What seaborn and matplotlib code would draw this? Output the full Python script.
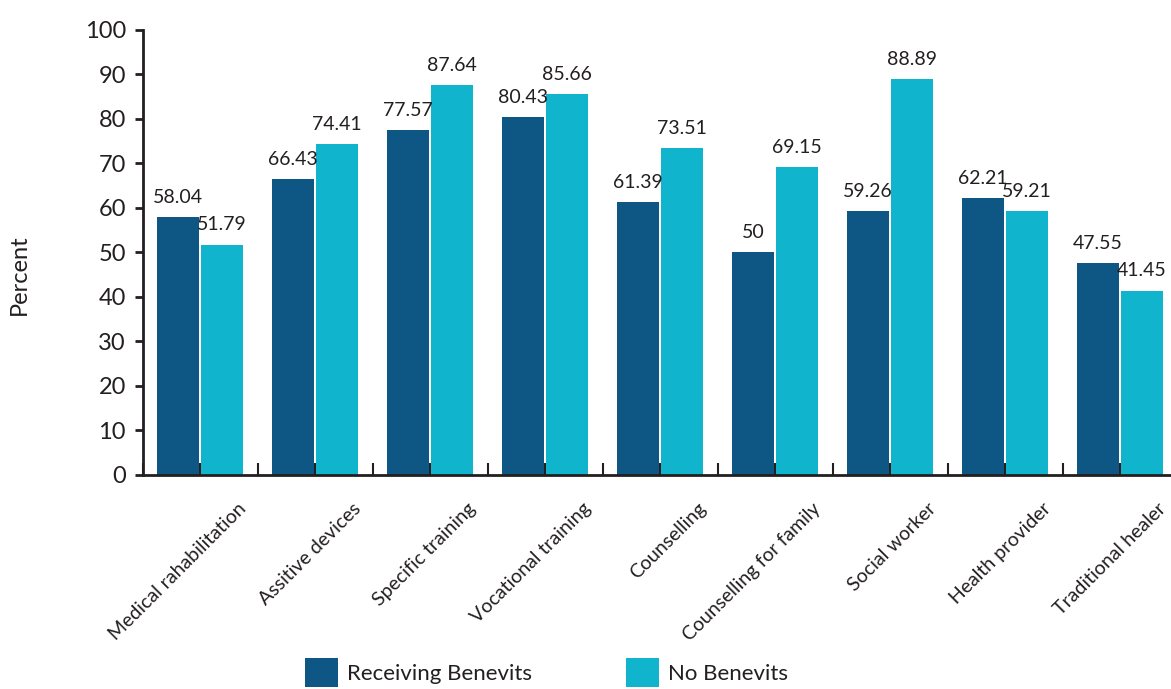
import matplotlib
matplotlib.use("Agg")
import matplotlib.pyplot as plt
import matplotlib.transforms as mtransforms
from matplotlib.patches import Patch
import numpy as np
import pandas as pd
import seaborn as sns

# Services and the share (%) of respondents in each group
services = [
    "Medical rahabilitation", "Assitive devices", "Specific training",
    "Vocational training", "Counselling", "Counselling for family",
    "Social worker", "Health provider", "Traditional healer",
]
receiving = [58.04, 66.43, 77.57, 80.43, 61.39, 50, 59.26, 62.21, 47.55]
no_benefits = [51.79, 74.41, 87.64, 85.66, 73.51, 69.15, 88.89, 59.21, 41.45]
groups = ["Receiving Benevits", "No Benevits"]
y_ticks = list(range(0, 101, 10))

colors = {"Receiving Benevits": "#0e5684", "No Benevits": "#10b4cd"}
ink = "#231f20"

df = pd.DataFrame({
    "service": services * 2,
    "group": [groups[0]] * len(services) + [groups[1]] * len(services),
    "value": receiving + no_benefits,
})

sns.set_theme(style="white")
plt.rcParams["font.family"] = ["Lato", "DejaVu Sans"]

fig = plt.figure(figsize=(11.71, 6.89), dpi=100)
ax = fig.add_axes([0.1217, 0.3106, 0.8839, 0.6459])

sns.barplot(data=df, x="service", y="value", hue="group", order=services,
            hue_order=groups, palette=colors, width=0.765, gap=0.046,
            saturation=1, legend=False, linewidth=0, ax=ax)

for cont in ax.containers:
    ax.bar_label(cont, fmt="{:g}", padding=8, fontsize=14, color=ink)

ax.set_xlim(-0.5, len(services) - 0.5)
ax.set_ylim(0, 100)
ax.set_yticks(y_ticks)
ax.set_xlabel("")
ax.set_ylabel("Percent", fontsize=17, color=ink)
ax.yaxis.set_label_coords(-0.109, 0.45)

for side in ("top", "right"):
    ax.spines[side].set_visible(False)
for side in ("left", "bottom"):
    ax.spines[side].set_color(ink)
    ax.spines[side].set_linewidth(2)

ax.tick_params(axis="y", direction="out", length=6, width=2, color=ink,
               labelsize=17, labelcolor=ink, pad=6, left=True)
ax.set_xticks(np.arange(len(services)))
ax.set_xticks(np.arange(-0.5, len(services)), minor=True)
ax.tick_params(axis="x", which="both", direction="in", length=8.5, width=1.5,
               color=ink, bottom=True)
ax.set_xticklabels(services, rotation=45, ha="right", va="top",
                   rotation_mode="anchor", fontsize=14, color=ink)
shift = mtransforms.ScaledTranslation(0.37, -0.20, fig.dpi_scale_trans)
for lab in ax.get_xticklabels():
    lab.set_transform(lab.get_transform() + shift)

handles = [Patch(facecolor=colors[g], edgecolor="none", label=g) for g in groups]
fig.legend(handles=handles, loc="center", bbox_to_anchor=(0.4667, 0.024),
           ncol=2, frameon=False, fontsize=16, handlelength=1.49,
           handleheight=1.6, handletextpad=0.4, columnspacing=4.2,
           labelcolor=ink)

fig.savefig("out.png", dpi=100)
